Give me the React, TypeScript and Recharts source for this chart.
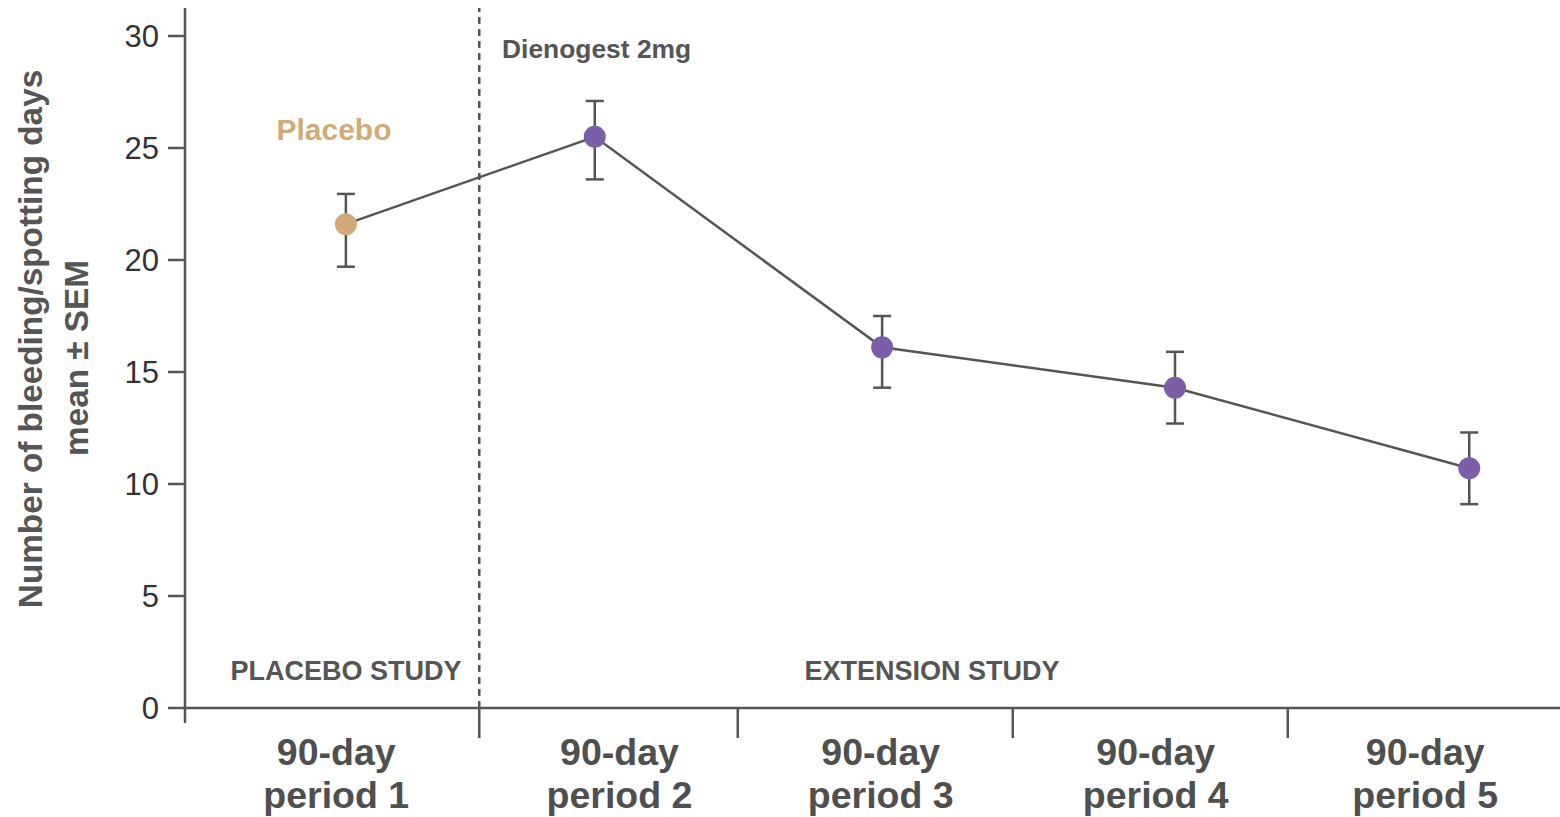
import React from "react";
import {
  LineChart,
  Line,
  XAxis,
  YAxis,
  ErrorBar,
  ReferenceLine,
} from "recharts";

// bleeding/spotting days per 90-day period, mean with SEM below / above
const periods = [
  "90-day period 1",
  "90-day period 2",
  "90-day period 3",
  "90-day period 4",
  "90-day period 5",
];
const treatments = ["Placebo", "Dienogest", "Dienogest", "Dienogest", "Dienogest"];
const periodX = [1.075, 1.98, 3.025, 4.09, 5.16];
const periodLabelX = [1.04, 2.07, 3.02, 4.02, 5.0];
const meanDays = [21.6, 25.5, 16.1, 14.3, 10.7];
const semLow = [1.9, 1.9, 1.8, 1.6, 1.6];
const semHigh = [1.35, 1.6, 1.4, 1.6, 1.6];
const periodBreaks = [1.56, 2.5, 3.5, 4.5];
const yTicks = [0, 5, 10, 15, 20, 25, 30];
const studySwitch = 1.56;

const DOT_COLORS: Record<string, string> = {
  Placebo: "#d2a978",
  Dienogest: "#7b5ea7",
};

const INK = "#555555";
const FONT = "'Liberation Sans', Arial, sans-serif";

const rows = periodX.map((x, i) => ({
  x,
  mean: meanDays[i],
  sem: [semLow[i], semHigh[i]],
  group: treatments[i],
}));

// separators and period names share one axis
const xTicks = [...periodBreaks, ...periodLabelX].sort((a, b) => a - b);

const renderDot = (props: any) => {
  const { cx, cy, index } = props;
  return (
    <circle
      key={`dot-${index}`}
      cx={cx}
      cy={cy}
      r={11}
      fill={DOT_COLORS[rows[index].group]}
    />
  );
};

const PeriodTick = (props: any) => {
  const { x, y, payload } = props;
  if (periodBreaks.includes(payload.value)) {
    return <line x1={x} y1={y} x2={x} y2={y + 30} stroke={INK} strokeWidth={2.5} />;
  }
  const i = periodLabelX.indexOf(payload.value);
  const label = periods[i] ?? "";
  const cut = label.indexOf(" ");
  return (
    <text
      x={x}
      y={y}
      textAnchor="middle"
      fill="#4f4f4f"
      fontSize={37.5}
      fontWeight="bold"
      fontFamily={FONT}
    >
      <tspan x={x} dy={57}>
        {label.slice(0, cut)}
      </tspan>
      <tspan x={x} dy={43}>
        {label.slice(cut + 1)}
      </tspan>
    </text>
  );
};

const YTitle = () => (
  <g fontFamily={FONT} fontWeight="bold" fill={INK} textAnchor="middle">
    <text x={42} y={339} fontSize={33.3} transform="rotate(-90 42 339)">
      Number of bleeding/spotting days
    </text>
    <text x={88} y={358} fontSize={33.3} transform="rotate(-90 88 358)">
      mean ± SEM
    </text>
  </g>
);

export default function App() {
  return (
    <div style={{ position: "absolute", left: 0, top: 0, width: 1560, height: 817 }}>
      <LineChart
        width={1560}
        height={817}
        data={rows}
        margin={{ top: 8, right: 0, bottom: 0, left: 0 }}
      >
        <XAxis
          type="number"
          dataKey="x"
          domain={[0.49, 5.49]}
          allowDataOverflow
          ticks={xTicks}
          interval={0}
          tick={<PeriodTick />}
          tickSize={0}
          tickMargin={0}
          height={109}
          axisLine={{ stroke: INK, strokeWidth: 2.5 }}
          tickLine={false}
        />
        <YAxis
          type="number"
          width={185}
          domain={[0, 31.25]}
          allowDataOverflow
          ticks={yTicks}
          interval={0}
          tickSize={17}
          tickMargin={9}
          tick={{ fill: "#333333", fontSize: 31, fontFamily: FONT }}
          axisLine={{ stroke: INK, strokeWidth: 2.5 }}
          tickLine={{ stroke: INK, strokeWidth: 2.5 }}
          label={{ content: () => <YTitle /> }}
        />
        <ReferenceLine
          x={studySwitch}
          stroke={INK}
          strokeWidth={2.5}
          strokeDasharray="7 5"
        />
        <Line
          type="linear"
          dataKey="mean"
          stroke={INK}
          strokeWidth={2.5}
          dot={renderDot}
          activeDot={false}
          isAnimationActive={false}
        >
          <ErrorBar
            dataKey="sem"
            direction="y"
            width={9}
            stroke={INK}
            strokeWidth={2.5}
            isAnimationActive={false}
          />
        </Line>
      </LineChart>
      <svg
        width={1560}
        height={817}
        style={{ position: "absolute", left: 0, top: 0, pointerEvents: "none" }}
        fontFamily={FONT}
        fontWeight="bold"
      >
        <line x1={185} y1={706} x2={185} y2={723} stroke={INK} strokeWidth={2.5} />
        <text x={334} y={140} fontSize={30} fill={DOT_COLORS.Placebo} textAnchor="middle">
          Placebo
        </text>
        <text x={502} y={58} fontSize={26.4} fill={INK}>
          Dienogest 2mg
        </text>
        <text x={346} y={680} fontSize={27} fill={INK} textAnchor="middle">
          PLACEBO STUDY
        </text>
        <text x={932} y={680} fontSize={27} fill={INK} textAnchor="middle">
          EXTENSION STUDY
        </text>
      </svg>
    </div>
  );
}
